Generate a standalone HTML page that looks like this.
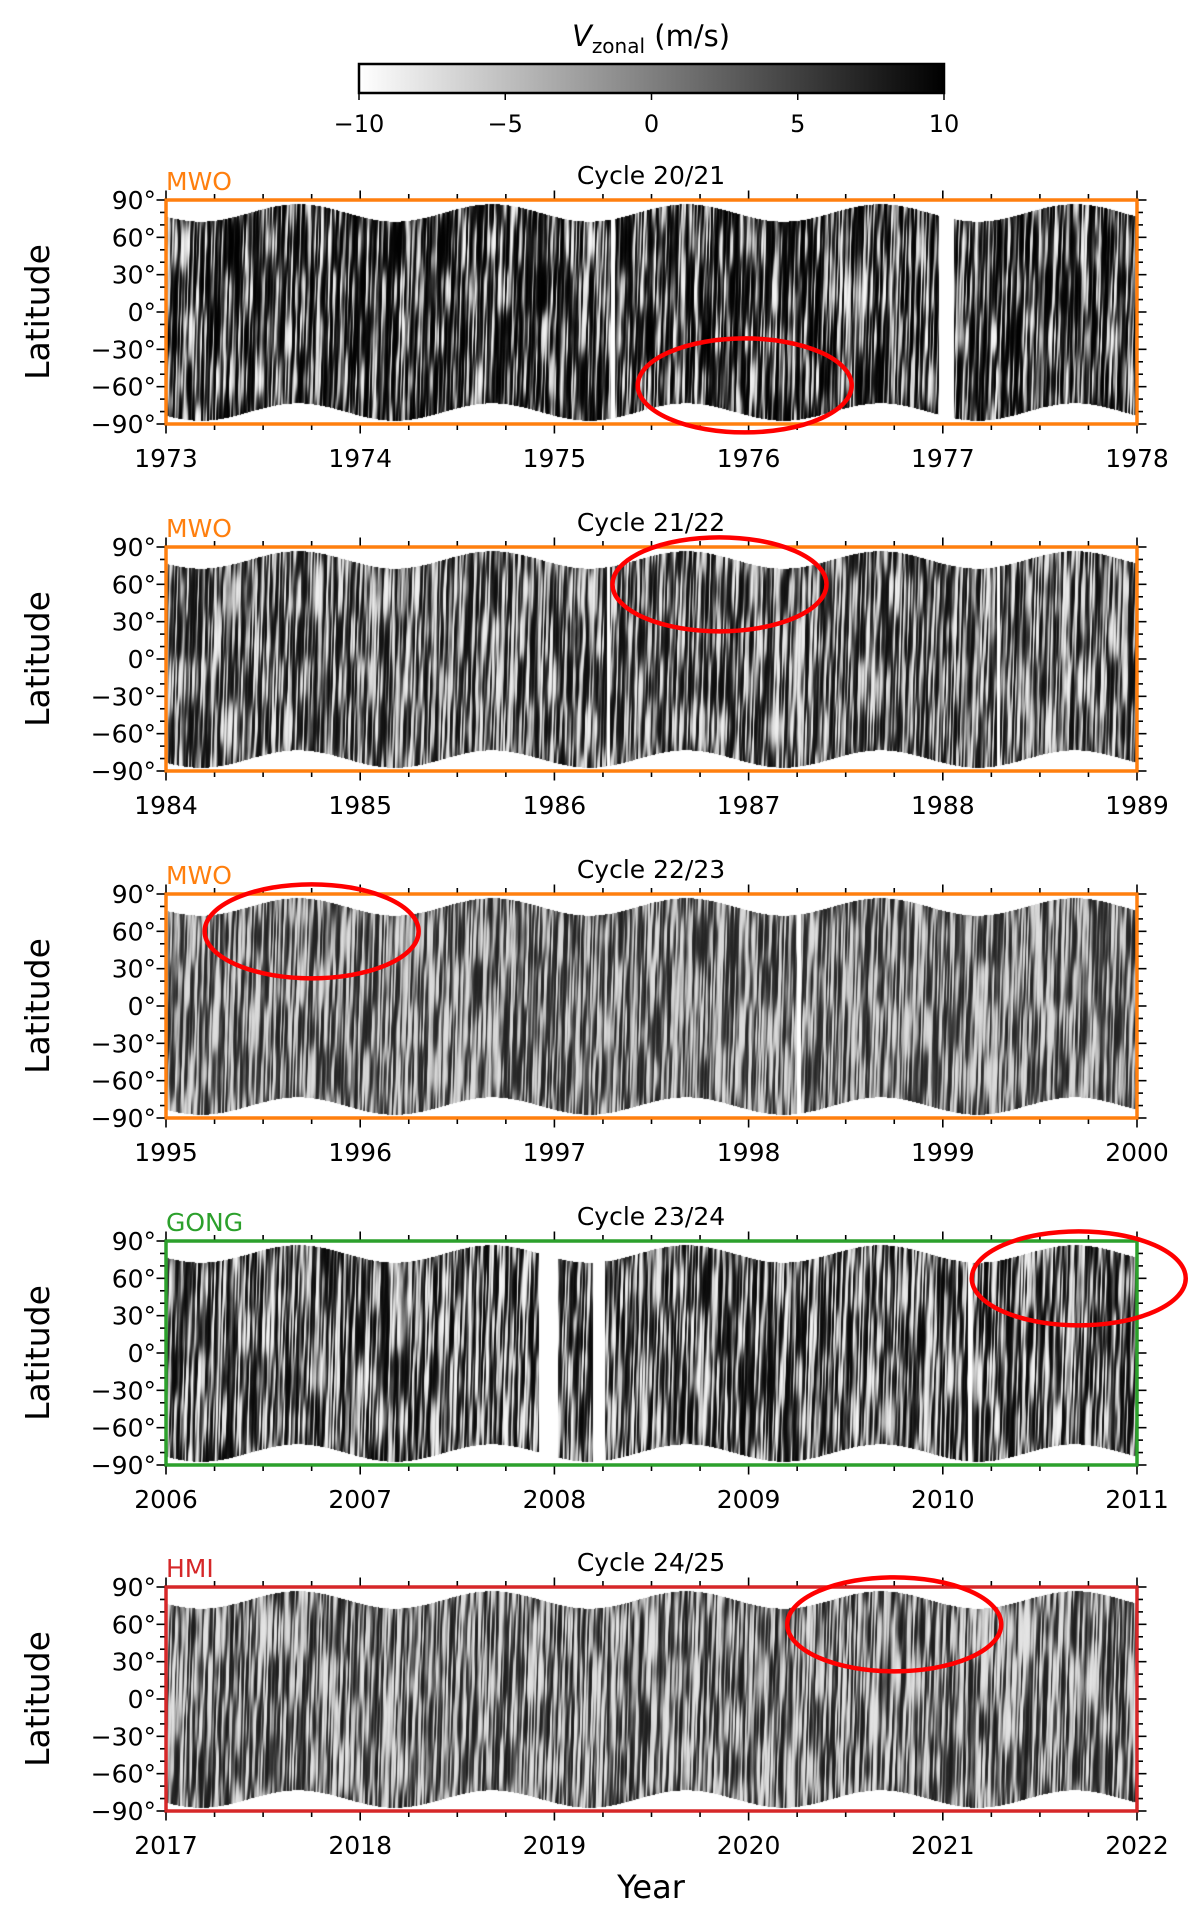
<!DOCTYPE html>
<html><head><meta charset="utf-8">
<style>
html,body{margin:0;padding:0;background:#fff;}
#root{position:relative;width:1200px;height:1926px;overflow:hidden;font-family:"DejaVu Sans","Liberation Sans",sans-serif;}
canvas{position:absolute;}
svg{position:absolute;left:0;top:0;}
</style></head>
<body>
<div id="root">
<svg id="svg" width="1200" height="1926"></svg>
</div>
<script>
// ---- data ----
const panelStartYears = [1973, 1984, 1995, 2006, 2017];
const panelTitles = ["Cycle 20/21", "Cycle 21/22", "Cycle 22/23", "Cycle 23/24", "Cycle 24/25"];
const panelSources = ["MWO", "MWO", "MWO", "GONG", "HMI"];
const sourceColors = {MWO: "#ff7f0e", GONG: "#2ca02c", HMI: "#d62728"};
const panelContrast = [1.0, 0.9, 0.75, 0.95, 0.8];
const panelBias = [0.25, 0.1, 0.0, 0.1, 0.0];
const panelGaps = [[[1975.29, 1975.31], [1976.98, 1977.06]], [[1986.27, 1986.285], [1988.28, 1988.295]], [[1998.25, 1998.27]], [[2007.92, 2008.02], [2008.2, 2008.26], [2010.13, 2010.15]], []];
const ellipseCenters = [[1975.98, -59], [1986.85, 60], [1995.75, 60], [2010.7, 60], [2020.75, 60]];
const latTicks = [90, 60, 30, 0, -30, -60, -90];
const cbarTicks = [-10, -5, 0, 5, 10];
const envMean = 80, envAmp = 7;

// ---- layout ----
const X0 = 166, X1 = 1137, H = 224;
const tops = [200, 547, 894, 1241, 1587];
const svg = document.getElementById('svg');
const NS = 'http://www.w3.org/2000/svg';
function mk(tag, attrs, parent) {
  const e = document.createElementNS(NS, tag);
  for (const k in attrs) e.setAttribute(k, attrs[k]);
  (parent || svg).appendChild(e);
  return e;
}
function txt(s, attrs) { const t = mk('text', attrs); t.textContent = s; return t; }

// colorbar
const CB = {x0: 359, x1: 944, y0: 64, y1: 93};
const defs = mk('defs', {});
const lg = mk('linearGradient', {id: 'cbg', x1: '0', x2: '1', y1: '0', y2: '0'}, defs);
mk('stop', {offset: '0', 'stop-color': '#fff'}, lg);
mk('stop', {offset: '1', 'stop-color': '#000'}, lg);
const cbr = mk('rect', {x: CB.x0, y: CB.y0, width: CB.x1 - CB.x0, height: CB.y1 - CB.y0, fill: 'url(#cbg)', stroke: '#000', 'stroke-width': 2.5});


const cbt = mk('text', {x: 651, y: 46, 'text-anchor': 'middle', 'font-size': 29, fill: '#000'});


const ts1 = mk('tspan', {'font-style': 'italic'}, cbt); ts1.textContent = 'V';
const ts2 = mk('tspan', {'font-size': 20, dy: 7}, cbt); ts2.textContent = 'zonal';
const ts3 = mk('tspan', {dy: -7}, cbt); ts3.textContent = ' (m/s)';
function cbx(v) { return CB.x0 + (v + 10) / 20 * (CB.x1 - CB.x0); }
cbarTicks.forEach(v => {
  const x = cbx(v);
  mk('line', {x1: x, x2: x, y1: CB.y1, y2: CB.y1 + 7, stroke: '#000', 'stroke-width': 1.5});
  const t = txt(v < 0 ? '\u2212' + Math.abs(v) : String(v), {x: x, y: 132, 'text-anchor': 'middle', 'font-size': 24});
  
  
});

// noise texture helpers (texture only, not data)
function hash2(i, j, s) { const v = Math.sin(i * 127.1 + j * 311.7 + s * 74.7) * 43758.5453; return v - Math.floor(v); }
function noise2(x, y, s) {
  const i = Math.floor(x), j = Math.floor(y), fx = x - i, fy = y - j;
  const ux = fx * fx * (3 - 2 * fx), uy = fy * fy * (3 - 2 * fy);
  const a = hash2(i, j, s), b = hash2(i + 1, j, s), c = hash2(i, j + 1, s), d = hash2(i + 1, j + 1, s);
  return ((a * (1 - ux) + b * ux) * (1 - uy) + (c * (1 - ux) + d * ux) * uy) * 2 - 1;
}
function envTop(t) { return envMean + envAmp * Math.cos(2 * Math.PI * (t - 0.68)); }
function envBot(t) { return -(envMean + envAmp * Math.cos(2 * Math.PI * (t - 0.18))); }

panelStartYears.forEach((y0, p) => {
  const top = tops[p], bot = top + H;
  const xs = t => X0 + (t - y0) / 5 * (X1 - X0);
  const ys = lat => top + (90 - lat) / 180 * H;
  const col = sourceColors[panelSources[p]];
  const cv = document.createElement('canvas');
  cv.width = X1 - X0; cv.height = H;
  cv.style.left = X0 + 'px'; cv.style.top = top + 'px';
  
  
  document.getElementById('root').insertBefore(cv, svg);
  const ctx = cv.getContext('2d');
  const img = ctx.createImageData(cv.width, cv.height);
  const c = panelContrast[p], bias = panelBias[p];
  for (let px = 0; px < cv.width; px++) {
    const t = y0 + (px + 0.5) / cv.width * 5;
    let gap = false;
    panelGaps[p].forEach(g => { if (t >= g[0] && t <= g[1]) gap = true; });
    const yt = ys(envTop(t)) - top, yb = ys(envBot(t)) - top;
    for (let py = 0; py < cv.height; py++) {
      const k = (py * cv.width + px) * 4;
      let g = 255;
      if (!gap && py >= yt && py <= yb) {
        const v = 0.85 * noise2((px + py * 0.03) / 1.5, py / 45, p + 1) + 0.2 * noise2(px / 5, py / 20, p + 11) + bias;
        g = 128 - c * 127 * Math.tanh(2.8 * v);
      }
      img.data[k] = img.data[k + 1] = img.data[k + 2] = g;
      img.data[k + 3] = 255;
    }
  }
  ctx.putImageData(img, 0, 0);

  const fr = mk('rect', {x: X0, y: top, width: X1 - X0, height: H, fill: 'none', stroke: col, 'stroke-width': 3.5});
  
  
  for (let i = 0; i <= 20; i++) {
    const x = xs(y0 + i * 0.25), len = i % 4 === 0 ? 8 : 4.5;
    mk('line', {x1: x, x2: x, y1: bot + 1.5, y2: bot + 1.5 + len, stroke: '#000', 'stroke-width': 1.6});
    mk('line', {x1: x, x2: x, y1: top - 1.5, y2: top - 1.5 - len, stroke: '#000', 'stroke-width': 1.6});
    if (i % 4 === 0) {
      const t = txt(String(y0 + i / 4), {x: x, y: bot + 43, 'text-anchor': 'middle', 'font-size': 25});
      
      
    }
  }
  for (let lat = -90; lat <= 90; lat += 10) {
    const y = ys(lat), len = lat % 30 === 0 ? 8 : 4.5;
    mk('line', {x1: X0 - 1.5, x2: X0 - 1.5 - len, y1: y, y2: y, stroke: '#000', 'stroke-width': 1.6});
    mk('line', {x1: X1 + 1.5, x2: X1 + 1.5 + len, y1: y, y2: y, stroke: '#000', 'stroke-width': 1.6});
  }
  latTicks.forEach(lat => {
    const t = txt((lat < 0 ? '\u2212' + Math.abs(lat) : lat) + '\u00b0', {x: X0 - 10, y: ys(lat) + 9, 'text-anchor': 'end', 'font-size': 25});
    
    
  });
  const yl = txt('Latitude', {x: 0, y: 0, 'text-anchor': 'middle', 'font-size': 33, transform: 'translate(49,' + (top + H / 2) + ') rotate(-90)'});
  
  
  const tt = txt(panelTitles[p], {x: 651, y: top - 16, 'text-anchor': 'middle', 'font-size': 25});
  
  
  const sl = txt(panelSources[p], {x: X0, y: top - 10, 'font-size': 25, fill: col});
  
  
  const ec = ellipseCenters[p];
  const el = mk('ellipse', {cx: xs(ec[0]), cy: ys(ec[1]), rx: 107, ry: 47, fill: 'none', stroke: '#ff0000', 'stroke-width': 4.5});
  
  
});
const xt = txt('Year', {x: 651, y: 1898, 'text-anchor': 'middle', 'font-size': 32});


</script>
</body></html>
